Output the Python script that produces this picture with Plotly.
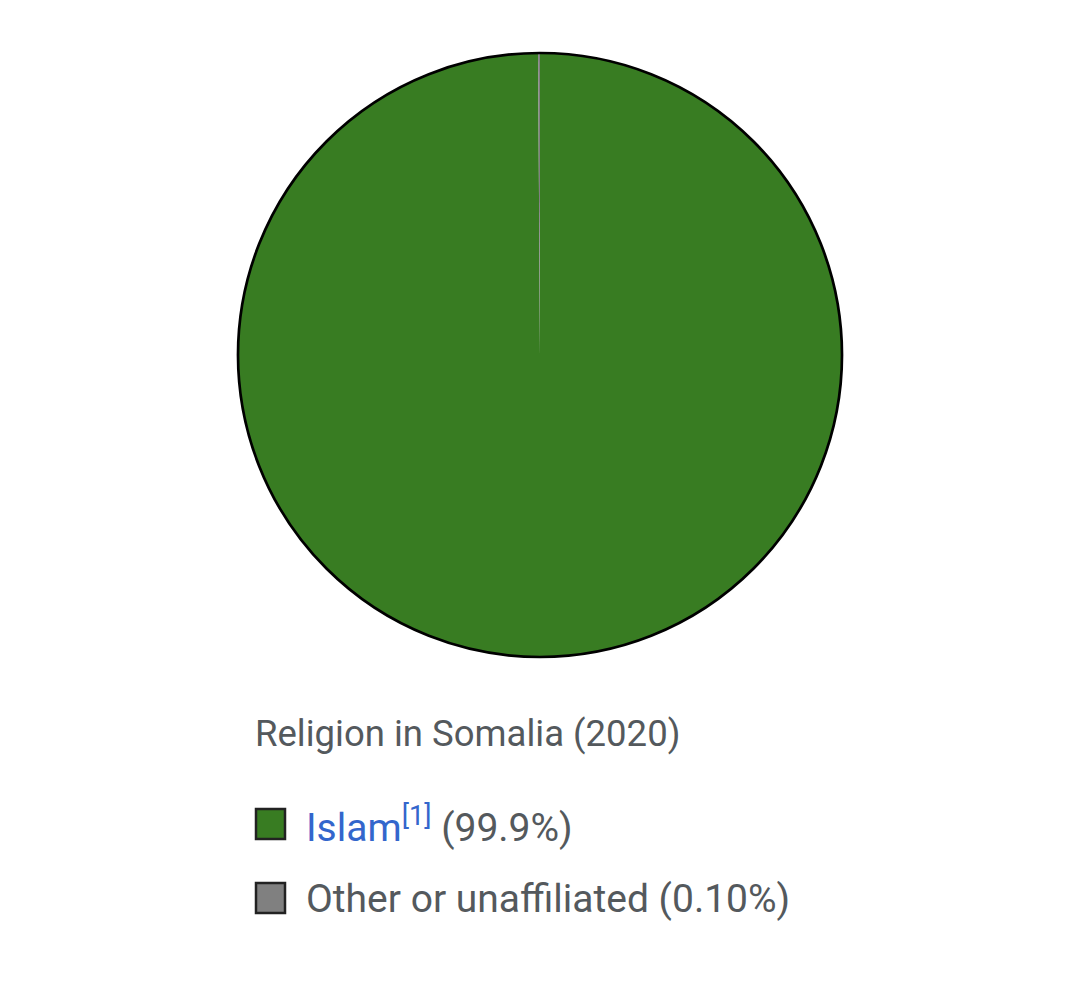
import plotly.graph_objects as go

W, H = 1076, 981
OFF = 8  # page body margin

title = "Religion in Somalia (2020)"
labels = ["Islam", "Other or unaffiliated"]
values = [99.9, 0.1]
pct_labels = ["99.9%", "0.10%"]
refs = ["[1]", ""]
colors = ["#387c22", "#808080"]
label_colors = ["#3366cc", "#54595d"]

TEXT = "#54595d"
FONT = "Roboto, Arial, sans-serif"


def px(x):
    return (x - OFF) / W


def py(y):
    return 1 - (y - OFF) / H


# pie geometry in page pixels
cx, cy, r = 540, 355, 302
x0, x1 = px(cx - r), px(cx + r)
y0, y1 = py(cy + r), py(cy - r)

fig = go.Figure()
fig.add_trace(go.Pie(
    labels=labels, values=values, sort=False, direction="clockwise", rotation=0,
    marker=dict(colors=colors, line=dict(width=0)),
    textinfo="none", hoverinfo="label+percent", showlegend=False,
    domain=dict(x=[x0, x1], y=[y0, y1]),
))

shapes = [dict(type="circle", xref="paper", yref="paper", x0=x0, x1=x1, y0=y0, y1=y1,
               line=dict(color="#000000", width=2.7), fillcolor="rgba(0,0,0,0)", layer="above")]
annotations = [dict(text=title, xref="paper", yref="paper", x=px(253), y=py(733),
                    xanchor="left", yanchor="middle", showarrow=False,
                    font=dict(family=FONT, size=36.5, color=TEXT))]

row0, step = 824, 74
for i, (lab, pct, ref, col, lcol) in enumerate(zip(labels, pct_labels, refs, colors, label_colors)):
    yc = row0 + i * step
    shapes.append(dict(type="rect", xref="paper", yref="paper",
                       x0=px(256), x1=px(285), y0=py(yc + 15), y1=py(yc - 15),
                       fillcolor=col, line=dict(color="#222222", width=2.5)))
    txt = f'<span style="color:{lcol}">{lab}'
    if ref:
        txt += f"<sup>{ref}</sup>"
    txt += f'</span> ({pct})'
    annotations.append(dict(text=txt, xref="paper", yref="paper", x=px(304), y=py(yc + 1),
                            xanchor="left", yanchor="middle", showarrow=False,
                            font=dict(family=FONT, size=39, color=TEXT)))

fig.update_layout(width=W, height=H, margin=dict(l=0, r=0, t=0, b=0),
                  paper_bgcolor="white", plot_bgcolor="white",
                  shapes=shapes, annotations=annotations)

fig.write_html("out.html")
